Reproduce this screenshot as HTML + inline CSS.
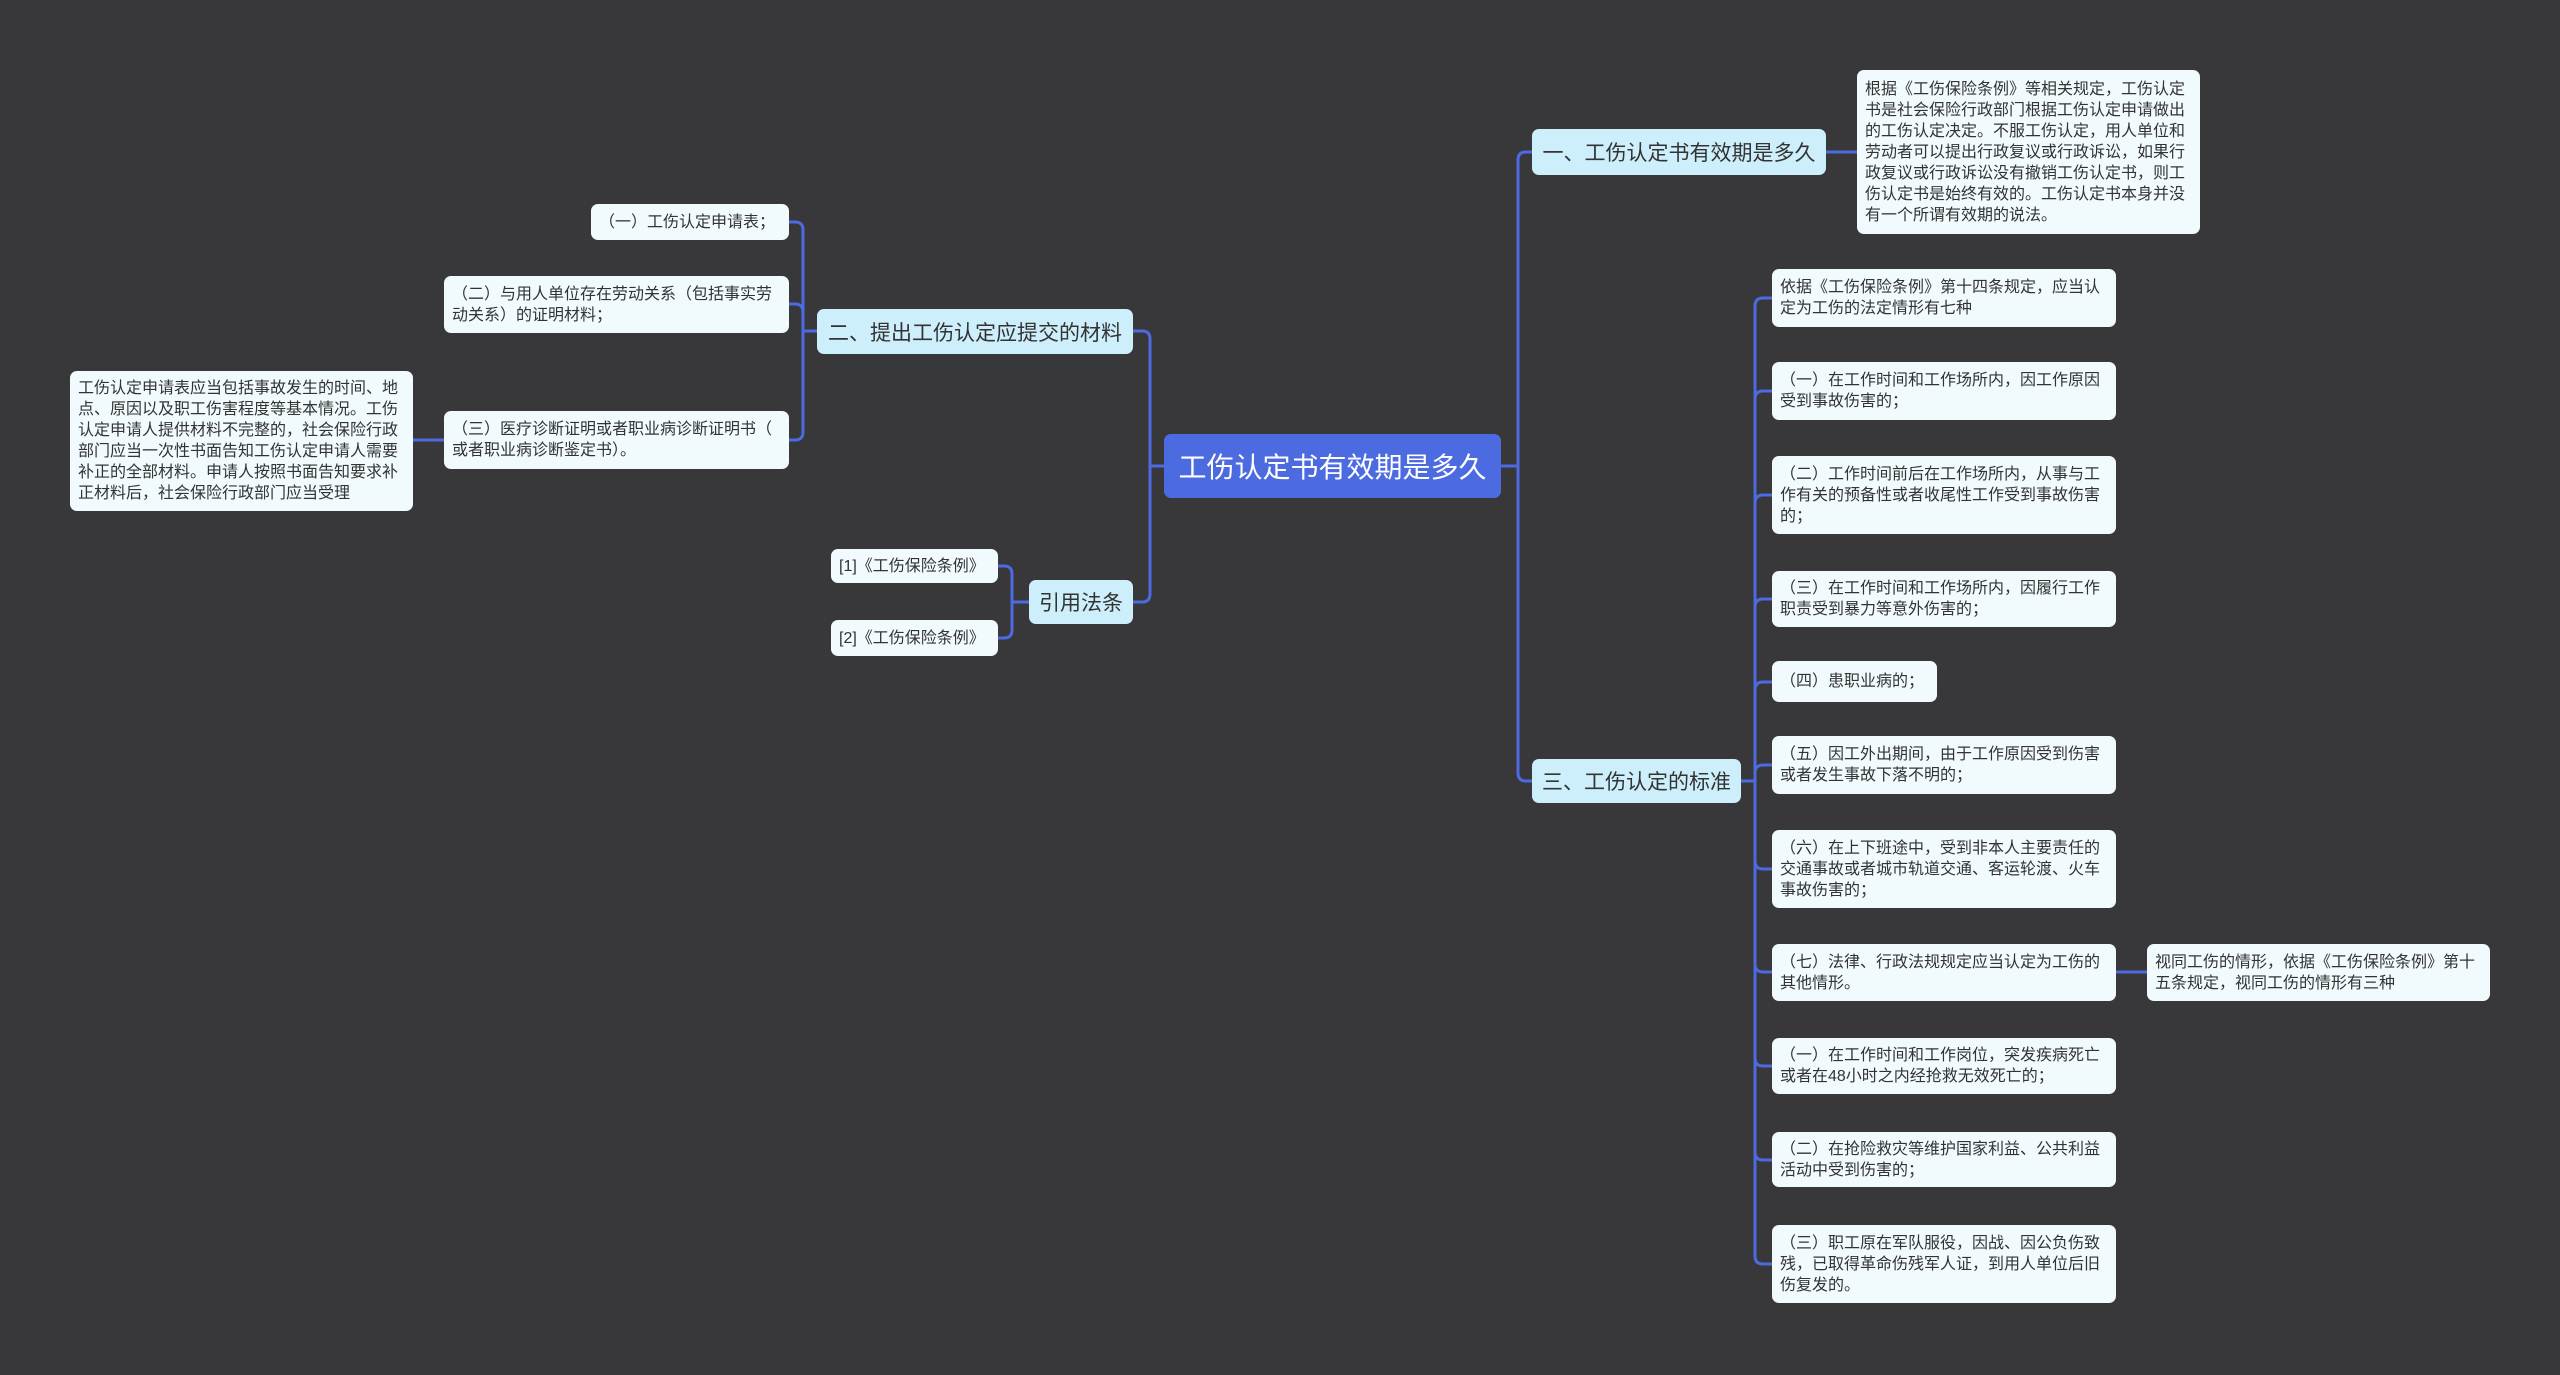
<!DOCTYPE html>
<html><head><meta charset="utf-8"><style>
body{margin:0;width:2560px;height:1375px;background:#38373a;overflow:hidden;font-family:"Liberation Sans","Noto Sans CJK SC",sans-serif;}
.n{position:absolute;box-sizing:border-box;border-radius:7px;color:#333;white-space:nowrap;display:flex;align-items:center;}
.l{background:#f1fbfe;font-size:16px;line-height:21px;padding:0 8px;}
.b{background:#cdeffb;font-size:21px;padding:0 8px;justify-content:center;}
.r{background:#4d6be0;color:#fff;font-size:28px;justify-content:center;}
svg{position:absolute;left:0;top:0}
</style></head><body>
<svg width="2560" height="1375" fill="none" stroke="#4d6be0" stroke-width="3">
<path d="M1501 466 H1518 V160 Q1518 152 1526 152 H1532"/>
<path d="M1518 466 V773 Q1518 781 1526 781 H1532"/>
<path d="M1164 466 H1150 V339 Q1150 331 1142 331 H1133"/>
<path d="M1150 466 V594 Q1150 602 1142 602 H1133"/>
<path d="M1826 152 H1857"/>
<path d="M1741 781 H1755"/>
<g>
<path d="M1755 781 V306 Q1755 298 1763 298 H1772"/>
<path d="M1755 399 Q1755 391 1763 391 H1772"/>
<path d="M1755 503 Q1755 495 1763 495 H1772"/>
<path d="M1755 607 Q1755 599 1763 599 H1772"/>
<path d="M1755 690 Q1755 682 1763 682 H1772"/>
<path d="M1755 773 Q1755 765 1763 765 H1772"/>
<path d="M1755 781 V1256 Q1755 1264 1763 1264 H1772"/>
<path d="M1755 861 Q1755 869 1763 869 H1772"/>
<path d="M1755 964 Q1755 972 1763 972 H1772"/>
<path d="M1755 1058 Q1755 1066 1763 1066 H1772"/>
<path d="M1755 1152 Q1755 1160 1763 1160 H1772"/>
</g>
<path d="M2116 972 H2147"/>
<path d="M817 331 H803 V230 Q803 222 795 222 H789"/>
<path d="M803 312 Q803 304 795 304 H789"/>
<path d="M803 331 V432 Q803 440 795 440 H789"/>
<path d="M444 440 H413"/>
<path d="M1029 602 H1012 V574 Q1012 566 1004 566 H998"/>
<path d="M1012 602 V630 Q1012 638 1004 638 H998"/>
</svg>

<div class="n r" style="left:1164px;top:434px;width:337px;height:64px">工伤认定书有效期是多久</div>
<div class="n b" style="left:1532px;top:129px;width:294px;height:46px">一、工伤认定书有效期是多久</div>
<div class="n b" style="left:1532px;top:759px;width:209px;height:44px">三、工伤认定的标准</div>
<div class="n b" style="left:817px;top:309px;width:316px;height:45px">二、提出工伤认定应提交的材料</div>
<div class="n b" style="left:1029px;top:580px;width:104px;height:44px">引用法条</div>

<div class="n l" style="left:1857px;top:70px;width:343px;height:164px">根据《工伤保险条例》等相关规定，工伤认定<br>书是社会保险行政部门根据工伤认定申请做出<br>的工伤认定决定。不服工伤认定，用人单位和<br>劳动者可以提出行政复议或行政诉讼，如果行<br>政复议或行政诉讼没有撤销工伤认定书，则工<br>伤认定书是始终有效的。工伤认定书本身并没<br>有一个所谓有效期的说法。</div>

<div class="n l" style="left:1772px;top:269px;width:344px;height:58px">依据《工伤保险条例》第十四条规定，应当认<br>定为工伤的法定情形有七种</div>
<div class="n l" style="left:1772px;top:362px;width:344px;height:58px">（一）在工作时间和工作场所内，因工作原因<br>受到事故伤害的；</div>
<div class="n l" style="left:1772px;top:456px;width:344px;height:78px">（二）工作时间前后在工作场所内，从事与工<br>作有关的预备性或者收尾性工作受到事故伤害<br>的；</div>
<div class="n l" style="left:1772px;top:571px;width:344px;height:56px">（三）在工作时间和工作场所内，因履行工作<br>职责受到暴力等意外伤害的；</div>
<div class="n l" style="left:1772px;top:661px;width:165px;height:41px">（四）患职业病的；</div>
<div class="n l" style="left:1772px;top:736px;width:344px;height:58px">（五）因工外出期间，由于工作原因受到伤害<br>或者发生事故下落不明的；</div>
<div class="n l" style="left:1772px;top:830px;width:344px;height:78px">（六）在上下班途中，受到非本人主要责任的<br>交通事故或者城市轨道交通、客运轮渡、火车<br>事故伤害的；</div>
<div class="n l" style="left:1772px;top:944px;width:344px;height:57px">（七）法律、行政法规规定应当认定为工伤的<br>其他情形。</div>
<div class="n l" style="left:2147px;top:944px;width:343px;height:57px">视同工伤的情形，依据《工伤保险条例》第十<br>五条规定，视同工伤的情形有三种</div>
<div class="n l" style="left:1772px;top:1038px;width:344px;height:56px">（一）在工作时间和工作岗位，突发疾病死亡<br>或者在48小时之内经抢救无效死亡的；</div>
<div class="n l" style="left:1772px;top:1132px;width:344px;height:55px">（二）在抢险救灾等维护国家利益、公共利益<br>活动中受到伤害的；</div>
<div class="n l" style="left:1772px;top:1225px;width:344px;height:78px">（三）职工原在军队服役，因战、因公负伤致<br>残，已取得革命伤残军人证，到用人单位后旧<br>伤复发的。</div>

<div class="n l" style="left:591px;top:204px;width:198px;height:36px">（一）工伤认定申请表；</div>
<div class="n l" style="left:444px;top:276px;width:345px;height:57px">（二）与用人单位存在劳动关系（包括事实劳<br>动关系）的证明材料；</div>
<div class="n l" style="left:444px;top:411px;width:345px;height:58px">（三）医疗诊断证明或者职业病诊断证明书（<br>或者职业病诊断鉴定书）。</div>
<div class="n l" style="left:70px;top:371px;width:343px;height:140px">工伤认定申请表应当包括事故发生的时间、地<br>点、原因以及职工伤害程度等基本情况。工伤<br>认定申请人提供材料不完整的，社会保险行政<br>部门应当一次性书面告知工伤认定申请人需要<br>补正的全部材料。申请人按照书面告知要求补<br>正材料后，社会保险行政部门应当受理</div>

<div class="n l" style="left:831px;top:549px;width:167px;height:34px">[1]《工伤保险条例》</div>
<div class="n l" style="left:831px;top:620px;width:167px;height:36px">[2]《工伤保险条例》</div>
</body></html>
